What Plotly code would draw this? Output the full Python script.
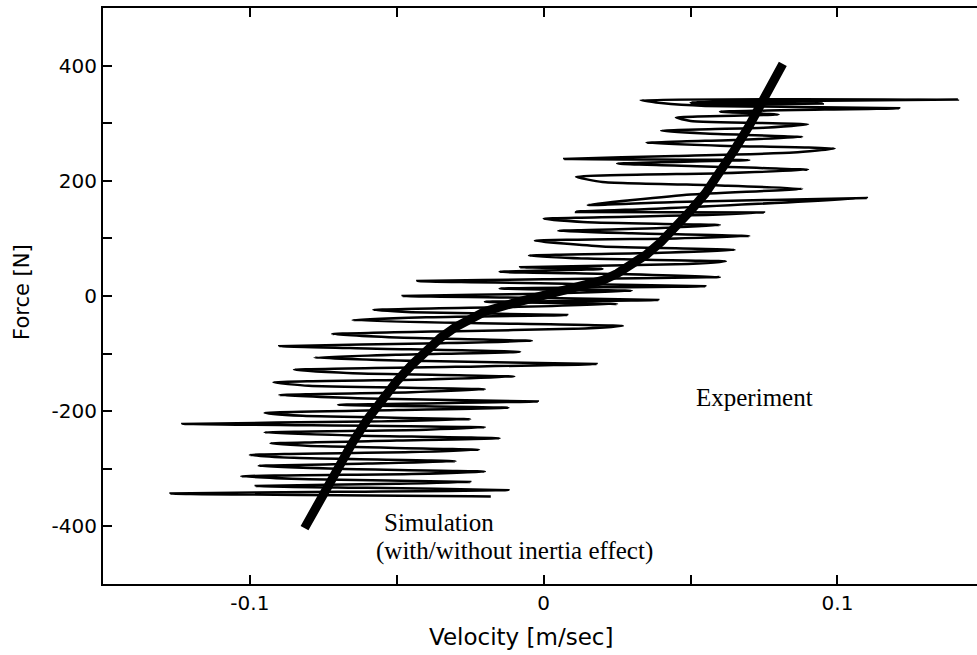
import plotly.graph_objects as go

# Simulation curve (velocity m/s, force N)
sim_velocity = [-0.0814, -0.075, -0.070, -0.065, -0.060, -0.055, -0.050, -0.045, -0.040, -0.035,
                -0.030, -0.025, -0.020, -0.010, 0.0, 0.010, 0.020, 0.025, 0.030, 0.035,
                0.040, 0.045, 0.050, 0.055, 0.060, 0.065, 0.070, 0.075, 0.0814]
sim_force = [-403, -342, -296, -254, -214, -178, -148, -120, -94, -72,
             -54, -39, -27, -12, 0, 12, 27, 39, 54, 72,
             94, 120, 148, 178, 214, 254, 296, 342, 403]

# Experiment trace (velocity m/s, force N)
exp_velocity = [
    -0.018, -0.127, -0.070, -0.012, -0.060, -0.098, -0.050, -0.025, -0.080, -0.103,
    -0.045, -0.020, -0.070, -0.097, -0.060, -0.030, -0.085, -0.100, -0.045, -0.022,
    -0.075, -0.093, -0.050, -0.015, -0.065, -0.095, -0.040, -0.020, -0.123, -0.060,
    -0.025, -0.082, -0.095, -0.050, -0.012, -0.070, -0.002, -0.060, -0.090, -0.045,
    -0.020, -0.080, -0.092, -0.040, -0.010, -0.065, -0.085, -0.030, 0.018, -0.040,
    -0.078, -0.050, -0.008, -0.060, -0.090, -0.035, -0.004, -0.050, -0.072, -0.030,
    0.010, 0.027, -0.025, -0.065, -0.040, 0.008, -0.045, -0.058, -0.010, 0.025,
    -0.020, 0.039, -0.005, -0.048, 0.000, 0.030, -0.015, 0.055, 0.010, -0.043,
    0.000, 0.060, 0.025, -0.015, 0.020, -0.008, 0.045, 0.062, 0.015, -0.005,
    0.040, 0.065, 0.020, -0.003, 0.045, 0.070, 0.030, 0.005, 0.040, 0.060,
    0.015, 0.000, 0.050, 0.075, 0.011, 0.040, 0.110, 0.045, 0.015, 0.050,
    0.088, 0.060, 0.020, 0.011, 0.060, 0.090, 0.055, 0.025, 0.070, 0.007,
    0.045, 0.085, 0.099, 0.060, 0.035, 0.065, 0.088, 0.055, 0.040, 0.075,
    0.090, 0.050, 0.045, 0.080, 0.060, 0.121, 0.055, 0.040, 0.033, 0.141,
    0.070, 0.050, 0.095, 0.050,
]
exp_force = [
    -348, -343, -340, -337, -333, -330, -326, -323, -318, -313,
    -309, -305, -300, -295, -291, -287, -281, -276, -271, -267,
    -261, -256, -251, -247, -242, -237, -232, -228, -222, -218,
    -214, -208, -203, -198, -194, -189, -183, -178, -172, -167,
    -162, -156, -150, -145, -140, -134, -128, -123, -118, -113,
    -107, -102, -97, -91, -87, -82, -78, -72, -66, -61,
    -57, -52, -47, -42, -37, -33, -28, -24, -19, -14,
    -10, -7, -3, 0, 4, 9, 13, 17, 21, 26,
    29, 33, 38, 42, 47, 50, 55, 60, 65, 70,
    75, 80, 86, 96, 100, 104, 109, 113, 118, 123,
    128, 134, 140, 145, 146, 152, 170, 163, 158, 176,
    186, 192, 198, 207, 213, 219, 225, 230, 236, 238,
    243, 249, 256, 261, 266, 271, 276, 282, 287, 292,
    298, 304, 310, 315, 320, 326, 330, 335, 340, 341,
    338, 336, 334, 332,
]

x_major_ticks = [-0.1, 0, 0.1]
x_major_labels = ["-0.1", "0", "0.1"]
y_major_ticks = [-400, -200, 0, 200, 400]
y_major_labels = ["-400", "-200", "0", "200", "400"]

fig = go.Figure()
fig.add_trace(go.Scatter(x=exp_velocity, y=exp_force, mode="lines",
                         line=dict(color="black", width=2.5, shape="spline", smoothing=0.5),
                         showlegend=False))
fig.add_trace(go.Scatter(x=sim_velocity, y=sim_force, mode="lines",
                         line=dict(color="black", width=9), showlegend=False))

tick_font = dict(family="DejaVu Sans", size=20, color="black")
xtitle_font = dict(family="DejaVu Sans", size=23, color="black")
ytitle_font = dict(family="DejaVu Sans", size=21, color="black")
serif = dict(family="Liberation Serif, Times New Roman", size=25, color="black")

fig.update_layout(
    width=977, height=655,
    margin=dict(l=103, r=0, t=8, b=71),
    paper_bgcolor="white", plot_bgcolor="white",
    xaxis=dict(range=[-0.15, 0.1475], tickvals=x_major_ticks, ticktext=x_major_labels,
               ticks="inside", ticklen=9, tickwidth=2, tickcolor="black",
               showline=True, linecolor="black", linewidth=2, mirror="ticks",
               showgrid=False, zeroline=False, tickfont=tick_font,
               minor=dict(tickvals=[-0.15, -0.05, 0.05], ticks="inside", ticklen=9,
                          tickwidth=2, tickcolor="black", showgrid=False)),
    yaxis=dict(range=[-500, 500], tickvals=y_major_ticks, ticktext=y_major_labels,
               ticks="inside", ticklen=9, tickwidth=2, tickcolor="black",
               showline=True, linecolor="black", linewidth=2, mirror=False,
               showgrid=False, zeroline=False, tickfont=tick_font,
               minor=dict(tickvals=[-300, -100, 100, 300], ticks="inside", ticklen=9,
                          tickwidth=2, tickcolor="black", showgrid=False)),
    annotations=[
        dict(text="Velocity [m/sec]", xref="x", yref="paper", x=-0.0078, y=-0.092,
             showarrow=False, font=xtitle_font, xanchor="center", yanchor="middle"),
        dict(text="Force [N]", xref="paper", yref="y", x=-0.0927, y=7, textangle=-90,
             showarrow=False, font=ytitle_font, xanchor="center", yanchor="middle"),
        dict(text="Experiment", xref="x", yref="y", x=0.0716, y=-176,
             showarrow=False, font=serif, xanchor="center", yanchor="middle"),
        dict(text="Simulation", xref="x", yref="y", x=-0.0552, y=-393,
             showarrow=False, font=serif, xanchor="left", yanchor="middle"),
        dict(text="(with/without inertia effect)", xref="x", yref="y", x=-0.0576, y=-443,
             showarrow=False, font=serif, xanchor="left", yanchor="middle"),
    ],
)

fig.write_html("out.html")
